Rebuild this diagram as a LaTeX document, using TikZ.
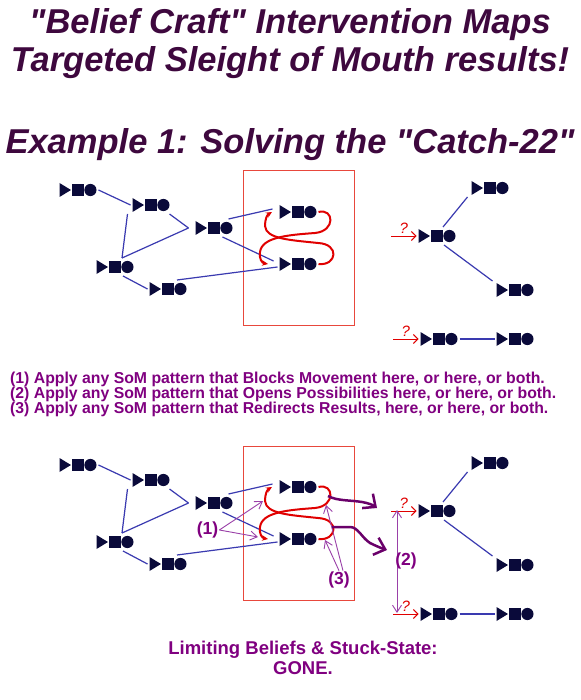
\documentclass[tikz,border=0pt]{standalone}
\usepackage{fontspec}
\setmainfont{Liberation Sans}
\usetikzlibrary{arrows.meta,calc}
\definecolor{Ink}{HTML}{0A0A3A}
\definecolor{Wire}{HTML}{3A3AB0}
\definecolor{LoopRed}{HTML}{E00000}
\definecolor{FrameRed}{HTML}{E8483C}
\definecolor{Plum}{HTML}{3E083E}
\definecolor{Violet}{HTML}{800080}
\definecolor{DeepViolet}{HTML}{6A006A}
\definecolor{SoftViolet}{HTML}{9A40A8}
\tikzset{
 belief/.style={minimum width=37, minimum height=14, inner sep=0pt, outer sep=2pt, path picture={
   \fill[Ink] (path picture bounding box.north west) -- ($(path picture bounding box.west)+(11.5pt,0pt)$) -- (path picture bounding box.south west) -- cycle;
   \fill[Ink] ($(path picture bounding box.west)+(12.5pt,-5.8pt)$) rectangle +(11.6pt,11.6pt);
   \fill[Ink] ($(path picture bounding box.east)+(-6.1pt,0pt)$) circle (6.1pt);
 }},
 link/.style={draw=Wire, line width=1.2pt},
 frame/.style={draw=FrameRed, line width=1pt, minimum width=111, minimum height=154, inner sep=0pt},
 twist/.style={draw=LoopRed, line width=2pt, -{Stealth[length=6pt,width=5.5pt]}},
 query/.style={draw=LoopRed, line width=0.9pt, -{Straight Barb[length=4.5pt,width=9pt]}},
 qmark/.style={text=LoopRed, font=\fontsize{15}{15}\selectfont\itshape, inner sep=0pt},
 escape/.style={draw=DeepViolet, line width=2.5pt, -{Straight Barb[length=10pt,width=18pt]}},
 nudge/.style={draw=SoftViolet, line width=0.9pt, -{Straight Barb[length=7pt,width=9pt]}},
 numtag/.style={text=Violet, font=\fontsize{17.5}{18}\selectfont\bfseries, inner sep=1pt},
 headline/.style={text=Plum, font=\fontsize{34.5}{40}\selectfont\bfseries\itshape, anchor=base, inner sep=0pt},
 howto/.style={text=Violet, font=\fontsize{15.8}{15}\selectfont\bfseries, anchor=base west, inner sep=0pt},
 verdict/.style={text=Violet, font=\fontsize{18.5}{20}\selectfont\bfseries, anchor=base, inner sep=0pt}
}
\begin{document}
\begin{tikzpicture}[x=1pt,y=-1pt]
\useasboundingbox[fill=white] (0,0) rectangle (580,700);
\node[headline] (head1) at (290,33.5) {\textquotedbl Belief Craft\textquotedbl{} Intervention Maps};
\node[headline] (head2) at (290,72) {Targeted Sleight of Mouth results!};
\node[headline] (head3) at (290,154) {Example 1: Solving the \textquotedbl Catch-22\textquotedbl};
% the same map twice, before and after
\foreach \p/\dy in {t/0,b/275}{
\begin{scope}[yshift=-\dy pt]
\node[frame] (\p box) at (298.5,248) {};
\node[belief] (\p A) at (78,190) {};
\node[belief] (\p B) at (151,205) {};
\node[belief] (\p C) at (214,228) {};
\node[belief] (\p D) at (115,267) {};
\node[belief] (\p E) at (168,289) {};
\node[belief] (\p F) at (298,212) {};
\node[belief] (\p G) at (298,264) {};
\node[belief] (\p H) at (437,236) {};
\node[belief] (\p I) at (490,188) {};
\node[belief] (\p J) at (515,290) {};
\node[belief] (\p K) at (439,339) {};
\node[belief] (\p L) at (515,339) {};
\draw[link] (\p A.east) -- (\p B.west);
\draw[link] ([xshift=-3pt]\p B.south west) -- ([xshift=7pt]\p D.north);
\draw[link] ([xshift=7pt]\p D.north) -- ([xshift=-5pt]\p C.west);
\draw[link] ([xshift=-2pt]\p B.south east) -- ([xshift=-5pt]\p C.west);
\draw[link] ([xshift=-6pt]\p C.north east) -- ([xshift=-5pt,yshift=3pt]\p F.west);
\draw[link] ([xshift=-12pt]\p C.south east) -- ([xshift=-4pt,yshift=3pt]\p G.west);
\draw[link] ([xshift=8pt]\p D.south) -- (\p E.west);
\draw[link] ([xshift=9pt]\p E.north) -- ([yshift=-3pt]\p G.west);
\draw[link] ([xshift=6pt]\p H.north) -- ([xshift=-2pt]\p I.south west);
\draw[link] ([xshift=7pt]\p H.south) -- ([xshift=-2pt]\p J.north west);
\draw[link] (\p K) -- (\p L);
\coordinate (\p qh) at ([xshift=-25.5pt]\p H.west);
\coordinate (\p qk) at ([xshift=-25.5pt]\p K.west);
\draw[query] (\p qh) -- (\p H) node[qmark, midway, above=2pt] {?};
\draw[query] (\p qk) -- (\p K) node[qmark, midway, above=2pt] {?};
% catch-22 loop
\coordinate (\p gin) at ([xshift=-9.5pt]\p G.west);
\coordinate (\p fin) at ([xshift=-5.5pt]\p F.west);
\draw[twist] (\p F.east) .. controls (334,208) and (336,231) .. (315,233) .. controls (288,235) and (262,237) .. (260,252) .. controls (259,259) and (262,263) .. (\p gin);
\draw[twist] (\p G.east) .. controls (337,266) and (340,244) .. (318,243) .. controls (290,240) and (266,239) .. (265,226) .. controls (265,219) and (267,215) .. (\p fin);
\end{scope}}
\node[howto] (step1) at (10,383) {(1) Apply any SoM pattern that Blocks Movement here, or here, or both.};
\node[howto] (step2) at (10,398) {(2) Apply any SoM pattern that Opens Possibilities here, or here, or both.};
\node[howto] (step3) at (10,413) {(3) Apply any SoM pattern that Redirects Results, here, or here, or both.};
% interventions
\coordinate (hit1) at (263,501);
\coordinate (hit2) at (258,537);
\coordinate (hit3) at (326,505);
\coordinate (hit4) at (325,540);
\coordinate (gap1) at (397,510);
\coordinate (gap2) at (397,613);
\draw[nudge, {Straight Barb[length=7pt,width=9pt]}-{Straight Barb[length=7pt,width=9pt]}] (gap1) -- (gap2);
\node[numtag] (one) at (207.5,530) {(1)};
\node[numtag] (two) at (406,561) {(2)};
\node[numtag] (three) at (339,580) {(3)};
\draw[nudge] (one.east) -- (hit1);
\draw[nudge] (one.east) -- (hit2);
\draw[nudge] ([xshift=4pt]three.north) -- (hit3);
\draw[nudge] (three.north) -- (hit4);
\coordinate (spill1) at (328,496);
\coordinate (exit1) at (377,508);
\coordinate (spill2) at (332,527);
\coordinate (exit2) at (387,550);
\draw[escape] (spill1) .. controls (337,501) and (350,500) .. (362,502) .. controls (368,503) and (373,505) .. (exit1);
\draw[escape] (spill2) -- (350,527) .. controls (358,527) and (362,538) .. (370,543) .. controls (376,546) and (381,548) .. (exit2);
\node[verdict] (gone1) at (303,654) {Limiting Beliefs \& Stuck-State:};
\node[verdict] (gone2) at (303,674) {GONE.};
\end{tikzpicture}
\end{document}
